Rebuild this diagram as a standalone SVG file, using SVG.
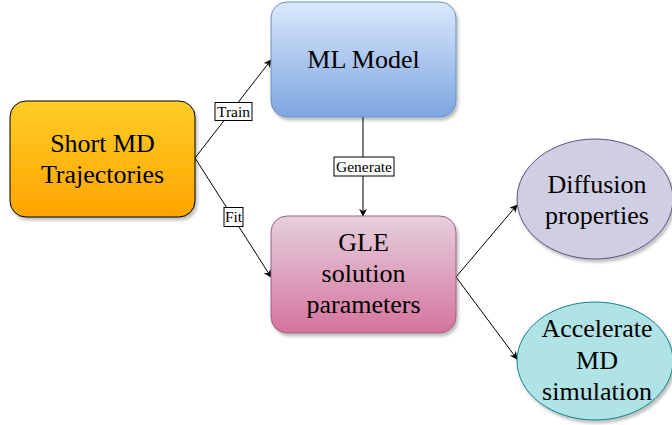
<svg xmlns="http://www.w3.org/2000/svg" width="672" height="425" viewBox="0 0 672 425">
<defs>
<linearGradient id="gOrange" x1="0" y1="0" x2="0" y2="1"><stop offset="0" stop-color="#ffcd28"/><stop offset="1" stop-color="#ffa500"/></linearGradient>
<linearGradient id="gBlue" x1="0" y1="0" x2="0" y2="1"><stop offset="0" stop-color="#dae8fc"/><stop offset="1" stop-color="#7ea6e0"/></linearGradient>
<linearGradient id="gPink" x1="0" y1="0" x2="0" y2="1"><stop offset="0" stop-color="#e6d0de"/><stop offset="1" stop-color="#d5739d"/></linearGradient>
<filter id="sh" x="-10%" y="-10%" width="130%" height="130%"><feDropShadow dx="2" dy="3" stdDeviation="1.5" flood-color="#000" flood-opacity="0.25"/></filter>
<marker id="arr" viewBox="0 0 10 10" refX="9" refY="5" markerWidth="8" markerHeight="8" orient="auto" markerUnits="userSpaceOnUse"><path d="M0,0 L10,5 L0,10 L3,5 Z" fill="#000"/></marker>
</defs>
<style>
.t{font-family:"Liberation Serif","Times New Roman",serif;font-size:26px;fill:#000;text-anchor:middle}
.l{font-family:"Liberation Serif","Times New Roman",serif;font-size:15.5px;fill:#000;text-anchor:middle}
.c{stroke:#000;stroke-width:1;fill:none;marker-end:url(#arr)}
.lb{fill:#fff;stroke:#000;stroke-width:1}
</style>
<rect width="672" height="425" fill="#fff"/>
<g id="connectors">
<path class="c" d="M195,158 L271,60"/>
<path class="c" d="M195,158 L271,277"/>
<path class="c" d="M363,117 L363,216"/>
<path class="c" d="M456,277 L517,205"/>
<path class="c" d="M456,277 L517,359"/>
<rect class="lb" x="215" y="102.5" width="37" height="18"/>
<text class="l" x="233.5" y="116.5">Train</text>
<rect class="lb" x="224" y="207.5" width="19" height="19"/>
<text class="l" x="233.5" y="222">Fit</text>
<rect class="lb" x="334" y="157" width="60" height="19"/>
<text class="l" x="364" y="171.5">Generate</text>
</g>
<g id="short-md">
<rect x="10" y="101" width="185" height="116" rx="16" fill="url(#gOrange)" stroke="#000" stroke-width="1" filter="url(#sh)"/>
<text class="t" x="102.5" y="152">Short MD</text>
<text class="t" x="102.5" y="183">Trajectories</text>
</g>
<g id="ml-model">
<rect x="271" y="2" width="185" height="115" rx="16" fill="url(#gBlue)" stroke="#6c8ebf" stroke-width="1" filter="url(#sh)"/>
<text class="t" x="363.5" y="68">ML Model</text>
</g>
<g id="gle">
<rect x="271" y="216" width="185" height="117" rx="16" fill="url(#gPink)" stroke="#996185" stroke-width="1" filter="url(#sh)"/>
<text class="t" x="363.5" y="251">GLE</text>
<text class="t" x="363.5" y="282">solution</text>
<text class="t" x="363.5" y="313">parameters</text>
</g>
<g id="diffusion">
<ellipse cx="595" cy="199" rx="78" ry="60" fill="#d0cee2" stroke="#56517e" stroke-width="1" filter="url(#sh)"/>
<text class="t" x="597" y="193">Diffusion</text>
<text class="t" x="597" y="224">properties</text>
</g>
<g id="accelerate">
<ellipse cx="595" cy="361" rx="78" ry="59" fill="#b0e3e6" stroke="#0e8088" stroke-width="1" filter="url(#sh)"/>
<text class="t" x="597" y="337">Accelerate</text>
<text class="t" x="597" y="369">MD</text>
<text class="t" x="597" y="400">simulation</text>
</g>
</svg>
